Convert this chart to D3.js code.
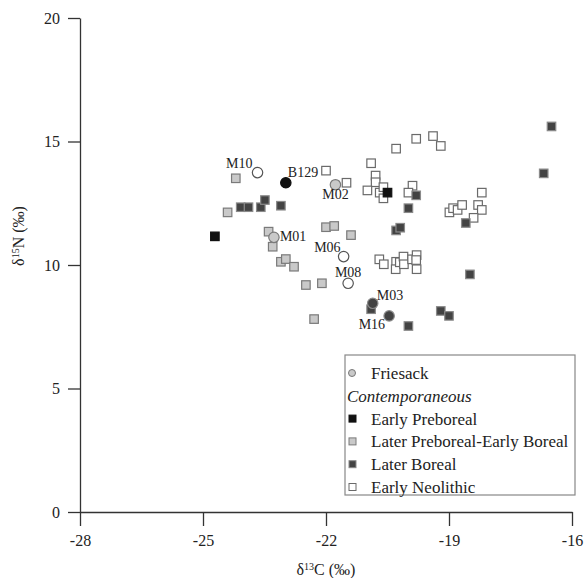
<!DOCTYPE html>
<html lang="en">
<head>
    <meta charset="UTF-8">
    <title>Friesack isotopes</title>
    <script src="https://d3js.org/d3.v7.min.js"></script>
    <style>
        body { margin: 0; background: #fff; }
        svg text { font-family: "Liberation Serif", "Times New Roman", serif; fill: #222; }
        .axis path, .axis line { stroke: #333; stroke-width: 1.3px; }
        .axis text { font-size: 16px; }
    </style>
</head>
<body>
    <div id="chart"></div>

    <script>
        // Friesack individuals: id, d13C, d15N, period
        const friesackIds = ["M10", "B129", "M02", "M01", "M06", "M08", "M03", "M16"];
        const friesackC = [-23.67, -22.98, -21.77, -23.27, -21.57, -21.46, -20.86, -20.46];
        const friesackN = [13.74, 13.33, 13.25, 11.12, 10.34, 9.26, 8.45, 7.94];
        const friesackPeriod = ["neo", "epb", "lpb", "lpb", "neo", "neo", "lb", "lb"];

        // Contemporaneous samples, [d13C, d15N]
        const earlyPreboreal = [[-24.71, 11.16], [-20.50, 12.93]];
        const laterPreborealEarlyBoreal = [
            [-24.20, 13.51], [-24.40, 12.13], [-23.40, 11.35], [-23.30, 10.74],
            [-23.10, 10.13], [-22.98, 10.24], [-22.78, 9.93], [-22.00, 11.53],
            [-21.80, 11.58], [-21.39, 11.21], [-22.49, 9.19], [-22.10, 9.26],
            [-22.29, 7.81]
        ];
        const laterBoreal = [
            [-24.08, 12.34], [-23.89, 12.34], [-23.59, 12.34], [-23.49, 12.63],
            [-23.10, 12.40], [-19.80, 12.82], [-19.99, 12.30], [-20.29, 11.40],
            [-20.19, 11.51], [-18.59, 11.70], [-16.50, 15.61], [-16.69, 13.71],
            [-18.49, 9.62], [-20.90, 8.21], [-19.20, 8.14], [-19.00, 7.94],
            [-19.99, 7.53]
        ];
        const earlyNeolithic = [
            [-19.80, 15.11], [-19.39, 15.22], [-19.20, 14.82], [-20.29, 14.71],
            [-20.90, 14.12], [-20.79, 13.62], [-20.79, 13.35], [-21.50, 13.33],
            [-20.99, 13.02], [-20.69, 12.93], [-20.60, 13.15], [-20.60, 12.70],
            [-19.89, 13.21], [-19.99, 12.93], [-18.20, 12.93], [-18.99, 12.13],
            [-18.90, 12.30], [-18.79, 12.23], [-18.68, 12.43], [-18.29, 12.43],
            [-18.20, 12.23], [-18.40, 11.91], [-22.00, 13.82],
            [-20.70, 10.23], [-20.59, 10.03], [-20.29, 10.13], [-20.30, 9.83],
            [-20.20, 10.11], [-20.11, 10.34], [-20.10, 10.03], [-19.90, 10.23],
            [-19.79, 10.40], [-19.80, 10.20], [-19.79, 9.83]
        ];

        const xTicks = [-28, -25, -22, -19, -16];
        const yTicks = [0, 5, 10, 15, 20];

        const legendLabels = ["Early Preboreal", "Later Preboreal-Early Boreal", "Later Boreal", "Early Neolithic"];

        // styles per period
        const styles = {
            epb: {fill: "#111", stroke: "#111"},
            lpb: {fill: "#c9c9c9", stroke: "#7a7a7a"},
            lb:  {fill: "#434343", stroke: "#8a8a8a"},
            neo: {fill: "#fff", stroke: "#6a6a6a"}
        };

        const W = 585, H = 578;
        const svg = d3.select("#chart").append("svg")
            .attr("width", W).attr("height", H);

        const x = d3.scaleLinear().domain([-28, -16]).range([80, 572]);
        const y = d3.scaleLinear().domain([0, 20]).range([512, 18]);

        // axes (plain hyphen for negatives, like the original)
        svg.append("g")
            .attr("class", "axis")
            .attr("transform", "translate(0,512)")
            .call(d3.axisBottom(x).tickValues(xTicks).tickFormat(d => String(d))
                .tickSize(14).tickSizeOuter(0).tickPadding(6))
            .call(g => g.selectAll("text").attr("dy", "0.9em"));

        svg.append("g")
            .attr("class", "axis")
            .attr("transform", "translate(80,0)")
            .call(d3.axisLeft(y).tickValues(yTicks).tickFormat(d => String(d))
                .tickSize(12).tickSizeOuter(0).tickPadding(8));

        svg.selectAll(".axis .domain").attr("fill", "none");

        // axis titles
        const xTitle = svg.append("text")
            .attr("x", 326).attr("y", 575)
            .attr("text-anchor", "middle")
            .style("font-size", "16px");
        xTitle.append("tspan").text("δ");
        xTitle.append("tspan").attr("dy", -5).style("font-size", "10px").text("13");
        xTitle.append("tspan").attr("dy", 5).text("C (‰)");

        const yTitle = svg.append("text")
            .attr("transform", "translate(24,236) rotate(-90)")
            .attr("text-anchor", "middle")
            .style("font-size", "16px");
        yTitle.append("tspan").text("δ");
        yTitle.append("tspan").attr("dy", -5).style("font-size", "10px").text("15");
        yTitle.append("tspan").attr("dy", 5).text("N (‰)");

        // squares
        const sq = 8.5;
        const groups = [
            [earlyNeolithic, "neo"],
            [laterBoreal, "lb"],
            [laterPreborealEarlyBoreal, "lpb"],
            [earlyPreboreal, "epb"]
        ];
        groups.forEach(([data, key]) => {
            svg.append("g").selectAll("rect")
                .data(data)
                .join("rect")
                .attr("x", d => x(d[0]) - sq / 2)
                .attr("y", d => y(d[1]) - sq / 2)
                .attr("width", sq).attr("height", sq)
                .attr("fill", styles[key].fill)
                .attr("stroke", styles[key].stroke)
                .attr("stroke-width", 1.2);
        });

        // Friesack circles
        const friesack = friesackIds.map((id, i) => ({id, c: friesackC[i], n: friesackN[i], p: friesackPeriod[i]}));
        svg.append("g").selectAll("circle")
            .data(friesack)
            .join("circle")
            .attr("cx", d => x(d.c))
            .attr("cy", d => y(d.n))
            .attr("r", 5.2)
            .attr("fill", d => styles[d.p].fill)
            .attr("stroke", d => d.p === "neo" ? "#555" : styles[d.p].stroke)
            .attr("stroke-width", 1.2);

        // label placement around each circle
        const labelPos = {
            M10:  {dx: -5, dy: -5, anchor: "end"},
            B129: {dx: 2, dy: -6, anchor: "start"},
            M02:  {dx: 0, dy: 14, anchor: "middle"},
            M01:  {dx: 6, dy: 4, anchor: "start"},
            M06:  {dx: -3, dy: -5, anchor: "end"},
            M08:  {dx: 0, dy: -6, anchor: "middle"},
            M03:  {dx: 4, dy: -3, anchor: "start"},
            M16:  {dx: -4, dy: 13, anchor: "end"}
        };
        svg.append("g").selectAll("text")
            .data(friesack)
            .join("text")
            .attr("x", d => x(d.c) + labelPos[d.id].dx)
            .attr("y", d => y(d.n) + labelPos[d.id].dy)
            .attr("text-anchor", d => labelPos[d.id].anchor)
            .style("font-size", "14px")
            .text(d => d.id);

        // legend
        const lg = svg.append("g");
        lg.append("rect")
            .attr("x", 345).attr("y", 355).attr("width", 230).attr("height", 140)
            .attr("fill", "#fff").attr("stroke", "#888").attr("stroke-width", 1.2);

        const rowY = d => 373 + d * 22.8;
        lg.append("circle")
            .attr("cx", 352).attr("cy", rowY(0)).attr("r", 3.5)
            .attr("fill", styles.lpb.fill).attr("stroke", "#777");
        lg.append("text").attr("x", 371).attr("y", rowY(0)).attr("dy", "0.35em")
            .style("font-size", "17px").text("Friesack");
        lg.append("text").attr("x", 347).attr("y", rowY(1)).attr("dy", "0.35em")
            .style("font-size", "17px").style("font-style", "italic").text("Contemporaneous");

        const legendKeys = ["epb", "lpb", "lb", "neo"];
        legendLabels.forEach((label, i) => {
            const yy = rowY(i + 2);
            lg.append("rect")
                .attr("x", 349).attr("y", yy - 3.5).attr("width", 7).attr("height", 7)
                .attr("fill", styles[legendKeys[i]].fill)
                .attr("stroke", styles[legendKeys[i]].stroke);
            lg.append("text").attr("x", 371).attr("y", yy).attr("dy", "0.35em")
                .style("font-size", "17px").text(label);
        });
    </script>
</body>
</html>
